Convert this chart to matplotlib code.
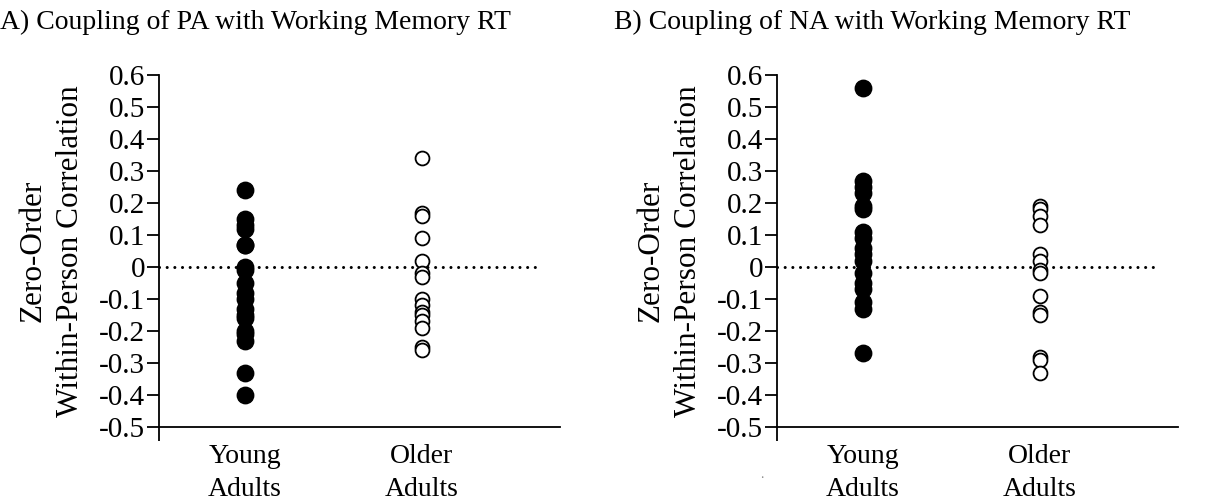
import matplotlib
matplotlib.use("Agg")
import matplotlib.pyplot as plt

plt.rcParams['font.family'] = ['Liberation Serif', 'DejaVu Serif']

groups = ["Young\nAdults", "Older\nAdults"]
yticks = [-0.5, -0.4, -0.3, -0.2, -0.1, 0, 0.1, 0.2, 0.3, 0.4, 0.5, 0.6]
ytick_labels = ["-0.5", "-0.4", "-0.3", "-0.2", "-0.1", "0", "0.1", "0.2", "0.3", "0.4", "0.5", "0.6"]

pa_young = [0.24, 0.15, 0.13, 0.12, 0.07, 0.07, 0.00, -0.01, -0.05, -0.08, -0.10,
            -0.13, -0.15, -0.16, -0.20, -0.21, -0.23, -0.33, -0.40]
pa_older = [0.34, 0.17, 0.16, 0.09, 0.02, -0.02, -0.03, -0.10, -0.12, -0.14, -0.15,
            -0.17, -0.19, -0.25, -0.26]
na_young = [0.56, 0.27, 0.25, 0.23, 0.19, 0.18, 0.11, 0.09, 0.06, 0.04, 0.02,
            -0.02, -0.05, -0.07, -0.11, -0.13, -0.27]
na_older = [0.19, 0.18, 0.16, 0.13, 0.04, 0.02, -0.01, -0.02, -0.09, -0.14, -0.15,
            -0.28, -0.29, -0.33]

titles = ["A) Coupling of PA with Working Memory RT", "B) Coupling of NA with Working Memory RT"]
ylabel = "Zero-Order\nWithin-Person Correlation"

fig = plt.figure(figsize=(12.24, 5.01), dpi=100)
W, H = 1224, 501
XMIN, XMAX = 0.515, 2.78

def make_panel(left_px, right_px, young, older, title, title_x):
    ax = fig.add_axes([left_px / W, 74 / H, (right_px - left_px) / W, 352 / H])
    ax.set_ylim(-0.5, 0.6)
    ax.set_xlim(XMIN, XMAX)
    ax.axhline(0, xmin=0, xmax=0.94, color='black', lw=2.2, dashes=(0.01, 2.5),
               dash_capstyle='round', zorder=1)
    ax.scatter([1] * len(young), young, s=140, color='black', zorder=3)
    ax.scatter([2] * len(older), older, s=100, facecolor='white', edgecolor='black',
               linewidth=1.3, zorder=3)
    for s in ['top', 'right']:
        ax.spines[s].set_visible(False)
    ax.spines['left'].set_linewidth(1.3)
    ax.spines['bottom'].set_linewidth(1.3)
    ax.set_yticks(yticks)
    ax.set_yticklabels(ytick_labels, fontsize=21)
    ax.tick_params(axis='y', length=9, width=1.3, pad=1, direction='out')
    ax.set_xticks([1, 2])
    ax.set_xticklabels(groups, fontsize=20, linespacing=1.45)
    ax.tick_params(axis='x', which='major', length=0, pad=12)
    ax.set_xticks([XMIN], minor=True)
    ax.tick_params(axis='x', which='minor', length=10, width=1.3, direction='out')
    ax.set_ylabel(ylabel, fontsize=22.5, linespacing=1.4, labelpad=10)
    fig.text(title_x / W, 1 - 22 / H, title, fontsize=20, ha='left', va='center')
    return ax

axA = make_panel(159, 560, pa_young, pa_older, titles[0], 0)
axB = make_panel(777, 1178, na_young, na_older, titles[1], 614)
fig.text(762 / W, 1 - 475 / H, ".", fontsize=10, color='#888888', ha='center', va='center')

fig.savefig("out.png", dpi=100)
